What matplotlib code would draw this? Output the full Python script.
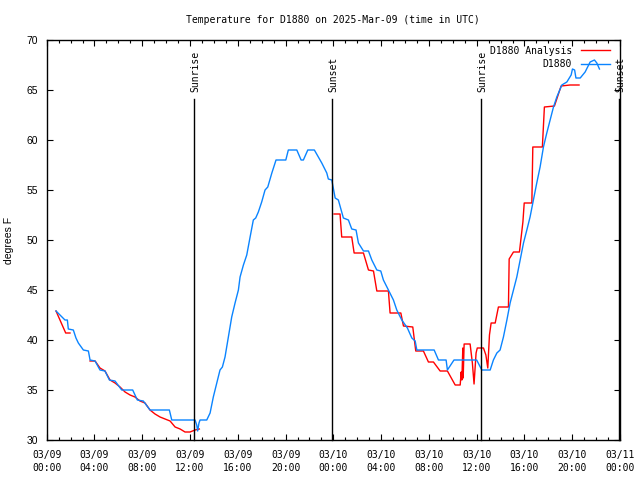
import matplotlib
matplotlib.use("Agg")
import matplotlib.pyplot as plt
import numpy as np

# hours since 03/09 00:00 UTC
obs_t = [0.78, 1.53, 1.73, 1.81, 2.23, 2.45, 2.65, 3.07, 3.49, 3.63, 4.05, 4.46, 4.88, 5.25, 5.72,
         6.28, 7.2, 7.59, 8.09, 8.65, 10.27, 10.47, 12.42, 12.56, 12.64, 12.75, 12.84, 13.4,
         13.68, 13.95, 14.24, 14.51, 14.71, 14.93, 15.21, 15.49, 15.77, 16.05, 16.19, 16.47,
         16.75, 17.03, 17.3, 17.5, 17.72, 18.0, 18.28, 18.51, 18.85, 19.2, 20.02, 20.23, 20.94,
         21.3, 21.49, 21.86, 22.41, 23.03, 23.45, 23.58, 23.87, 24.15, 24.42, 24.84, 25.26,
         25.54, 25.9, 26.1, 26.52, 26.94, 27.22, 27.64, 27.97, 28.19, 28.61, 29.03, 29.31,
         29.73, 30.2, 30.57, 30.85, 30.99, 32.44, 32.8, 33.44, 33.55, 34.1, 36.0, 36.43, 37.13,
         37.4, 37.69, 37.96, 38.24, 38.53, 38.8, 39.08, 39.36, 39.64, 39.92, 40.2, 40.47,
         40.75, 41.03, 41.31, 41.59, 41.87, 42.15, 42.43, 42.71, 43.13, 43.55, 43.91, 44.02,
         44.2, 44.31, 44.67, 45.08, 45.5, 45.86, 46.06, 46.28]
obs_v = [42.9, 42.0, 42.0, 41.1, 41.0, 40.2, 39.7, 39.0, 38.9, 38.0, 37.9, 37.0, 36.9, 36.0, 35.9,
         35.0, 35.0, 34.0, 33.9, 33.0, 33.0, 32.0, 32.0, 31.5, 30.9, 31.7, 32.0, 32.0,
         32.7, 34.3, 35.7, 37.0, 37.3, 38.3, 40.3, 42.3, 43.7, 45.0, 46.3, 47.5,
         48.5, 50.3, 52.0, 52.2, 52.8, 53.8, 55.0, 55.3, 56.7, 58.0, 58.0, 59.0, 59.0,
         58.0, 58.0, 59.0, 59.0, 57.7, 56.7, 56.1, 56.0, 54.2, 54.0, 52.2, 52.0,
         51.1, 51.0, 49.7, 48.9, 48.9, 48.0, 47.0, 46.9, 46.0, 45.0, 44.0, 43.0,
         42.0, 41.2, 40.2, 39.9, 39.0, 39.0, 38.0, 38.0, 37.0, 38.0, 38.0, 37.0, 37.0,
         38.0, 38.7, 39.0, 40.3, 42.0, 43.7, 45.0, 46.3, 48.0, 49.7, 51.0, 52.3,
         54.0, 55.7, 57.3, 59.3, 60.7, 62.0, 63.3, 64.3, 65.5, 65.8, 66.5, 67.1,
         67.0, 66.2, 66.2, 66.8, 67.8, 68.0, 67.7, 67.1]

ana1_t = [0.78, 1.59, 1.95]
ana1_v = [42.9, 40.7, 40.7]
ana2_t = [3.63, 4.05, 4.46, 4.88, 5.3, 5.72, 6.14, 6.56, 6.98, 7.39, 7.81, 8.23, 8.65, 9.07, 9.49,
          9.91, 10.33, 10.75, 11.17, 11.58, 12.0, 12.42, 12.78]
ana2_v = [37.9, 37.9, 37.2, 36.9, 36.0, 35.7, 35.3, 34.8, 34.5, 34.3, 33.9, 33.7, 33.0, 32.6, 32.3,
          32.1, 31.9, 31.3, 31.1, 30.8, 30.8, 31.0, 31.1]
ana3_t = [24.06, 24.56, 24.7, 25.54, 25.74, 26.52, 26.94, 27.36, 27.64, 28.61, 28.75, 29.65, 29.87,
          30.65, 30.9, 31.54, 31.96, 32.38, 32.94, 33.55, 34.2, 34.62, 34.7, 34.76, 34.84, 34.87,
          34.95, 35.45, 35.64, 35.78, 35.95, 36.05, 36.57, 36.77, 36.93, 37.07, 37.21, 37.55,
          37.82, 38.66, 38.72, 39.08, 39.58, 39.87, 39.98, 40.62, 40.7, 41.5, 41.67, 42.51,
          43.07, 43.82, 44.57]
ana3_v = [52.6, 52.6, 50.3, 50.3, 48.7, 48.7, 47.0, 46.9, 44.9, 44.9, 42.7, 42.7, 41.4,
          41.3, 38.9, 38.9, 37.8, 37.8, 36.9, 36.9, 35.5, 35.5, 36.8, 36.0, 39.2, 36.2,
          39.6, 39.6, 37.7, 35.6, 38.7, 39.2, 39.2, 38.5, 37.2, 40.5, 41.7, 41.7,
          43.3, 43.3, 48.1, 48.8, 48.8, 51.8, 53.7, 53.7, 59.3, 59.3, 63.3, 63.4,
          65.4, 65.5, 65.5]

sun_t = [12.36, 23.9, 36.37, 47.89]
sun_lbl = ["Sunrise", "Sunset", "Sunrise", "Sunset"]

xtick_pos = list(range(0, 49, 4))
xtick_lbl = ["03/09\n00:00", "03/09\n04:00", "03/09\n08:00", "03/09\n12:00", "03/09\n16:00",
             "03/09\n20:00", "03/10\n00:00", "03/10\n04:00", "03/10\n08:00", "03/10\n12:00",
             "03/10\n16:00", "03/10\n20:00", "03/11\n00:00"]
ytick_pos = [30, 35, 40, 45, 50, 55, 60, 65, 70]

mono = "DejaVu Sans Mono"
sans = "Liberation Sans"
red = "#ff0000"
blue = "#0a84ff"

fig = plt.figure(figsize=(6.4, 4.8), dpi=100)
ax = fig.add_axes([46.7 / 640, 1 - 440 / 480, (620 - 46.7) / 640, 400 / 480])

ax.plot(ana1_t, ana1_v, color=red, lw=1.0)
ax.plot(ana2_t, ana2_v, color=red, lw=1.0)
ax.plot(ana3_t, ana3_v, color=red, lw=1.0, label="D1880 Analysis")
ax.plot(obs_t, obs_v, color=blue, lw=1.0, label="D1880")

for t, lbl in zip(sun_t, sun_lbl):
    ax.plot([t, t], [30, 64.1], color="black", lw=1.0, clip_on=False)
    ax.text(t + 0.1, 64.8, lbl, rotation=90, ha="center", va="bottom",
            fontsize=7, family=mono, clip_on=False)

ax.set_xlim(0, 48)
ax.set_ylim(30, 70)
ax.set_xticks(xtick_pos)
ax.set_xticklabels(xtick_lbl, family=mono, fontsize=7, linespacing=1.35)
ax.set_xticks(np.arange(0, 49, 1), minor=True)
ax.set_yticks(ytick_pos)
ax.set_yticklabels([str(v) for v in ytick_pos], family=sans, fontsize=7.5)
ax.tick_params(axis="both", which="both", direction="in", top=True, right=True, width=0.8)
ax.tick_params(axis="both", which="major", length=4.5)
ax.tick_params(axis="x", which="major", pad=7)
ax.tick_params(axis="y", which="major", pad=6)
ax.tick_params(axis="x", which="minor", length=2.5)
for s in ax.spines.values():
    s.set_linewidth(1.0)

ax.set_ylabel("degrees F", family=sans, fontsize=7.5, labelpad=9)
ax.set_title("Temperature for D1880 on 2025-Mar-09 (time in UTC)", family=mono, fontsize=7, pad=12)

leg = ax.legend(loc="upper right", frameon=False, markerfirst=False, prop={"family": mono, "size": 7},
                handlelength=3.0, handletextpad=0.9, borderaxespad=0.2, labelspacing=0.35,
                bbox_to_anchor=(0.993, 1.0))

fig.savefig("out.png", dpi=100)
